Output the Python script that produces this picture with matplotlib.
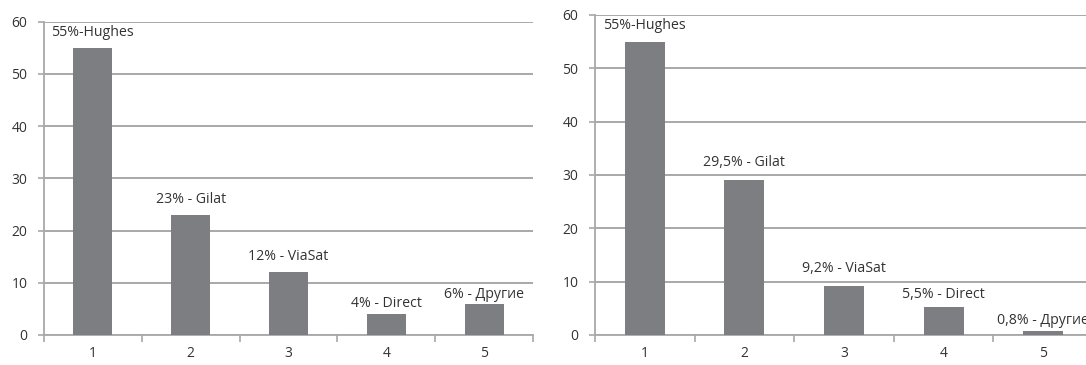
import matplotlib
matplotlib.use("Agg")
import matplotlib.pyplot as plt
from matplotlib.ticker import FixedLocator, NullFormatter, FixedFormatter

plt.rcParams['font.family'] = ['Open Sans', 'DejaVu Sans']

categories = ["1", "2", "3", "4", "5"]
yticks = [0, 10, 20, 30, 40, 50, 60]

left_values = [55, 23, 12, 4, 6]
left_labels = ["55%-Hughes", "23% - Gilat", "12% - ViaSat", "4% - Direct", "6% - Другие"]

right_values = [55, 29, 9.2, 5.3, 0.8]
right_labels = ["55%-Hughes", "29,5% - Gilat", "9,2% - ViaSat", "5,5% - Direct", "0,8% - Другие"]

# label offsets above bar tops (pixels)
left_offsets = [15, 15, 16, 11, 9]
right_offsets = [16, 18, 17, 12, 10]

W, H = 1086, 365
fig = plt.figure(figsize=(W / 100, H / 100), dpi=100)

BAR = "#7d7e82"
GRID = "#a8a8a8"
TXT = "#333333"


def draw(ax, values, labels, offsets):
    x = list(range(1, len(categories) + 1))
    ax.bar(x, values, width=0.4, color=BAR, zorder=3)
    ax.set_xlim(0.5, len(categories) + 0.5)
    ax.set_ylim(0, 60)
    ax.yaxis.set_major_locator(FixedLocator(yticks))
    ax.set_yticklabels([str(t) for t in yticks])
    ax.grid(axis='y', color=GRID, linewidth=1.4, zorder=0)
    ax.xaxis.set_major_locator(FixedLocator([i + 0.5 for i in range(len(categories) + 1)]))
    ax.xaxis.set_major_formatter(NullFormatter())
    ax.xaxis.set_minor_locator(FixedLocator(x))
    ax.xaxis.set_minor_formatter(FixedFormatter(categories))
    ax.tick_params(axis='x', which='major', length=5, color=GRID, width=1.2)
    ax.tick_params(axis='x', which='minor', length=0, pad=8, labelsize=10, labelcolor=TXT)
    ax.tick_params(axis='y', length=4, color=GRID, width=1.2, pad=8, labelsize=10, labelcolor=TXT)
    for s in ['top', 'right']:
        ax.spines[s].set_visible(False)
    for s in ['left', 'bottom']:
        ax.spines[s].set_color(GRID)
        ax.spines[s].set_linewidth(1.3)
    for xi, v, lab, off in zip(x, values, labels, offsets):
        ax.annotate(lab, (xi, v), xytext=(0, off), textcoords='offset pixels',
                    ha='center', va='center', fontsize=10.2, color=TXT,
                    annotation_clip=False, clip_on=False)


ax1 = fig.add_axes([44 / W, 30 / H, 489 / W, 313.3 / H])
draw(ax1, left_values, left_labels, left_offsets)

ax2 = fig.add_axes([595 / W, 30 / H, 498 / W, 320 / H])
draw(ax2, right_values, right_labels, right_offsets)

fig.savefig("out.png", dpi=100)
